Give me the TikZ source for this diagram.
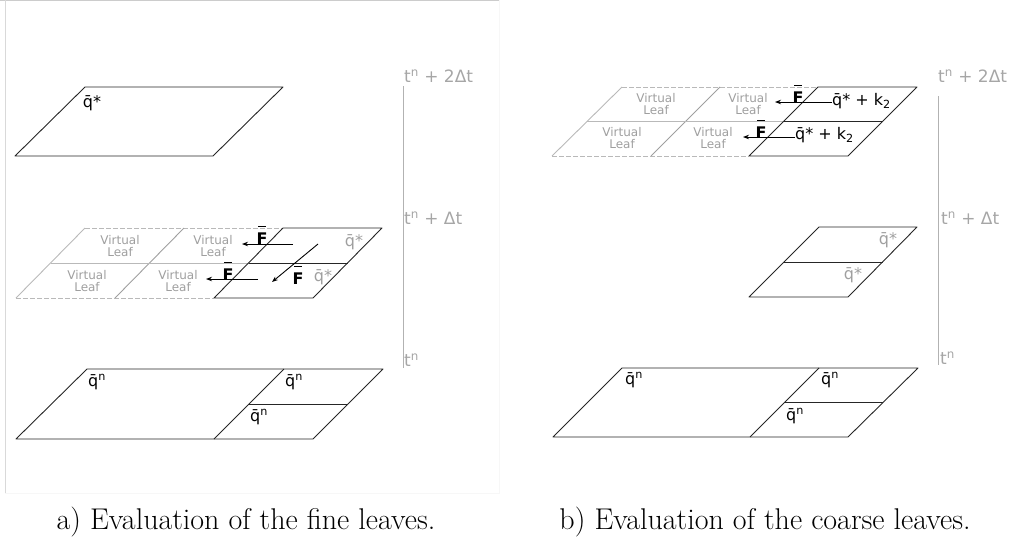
\documentclass[tikz,border=0pt]{standalone}
\usepackage{fontspec}
\newfontfamily\labelfont{DejaVu Sans}
\usetikzlibrary{arrows.meta}
\newcommand{\qbar}{q^^^^0304}
\newcommand{\Fbar}{{\bfseries\setbox0\hbox{F}\vbox{\hbox to\wd0{\hss\vrule height1.2pt width.7\wd0\hss}\kern1.4pt\box0}}}
\begin{document}
\begin{tikzpicture}[x=1pt, y=-1pt, every node/.style={inner sep=0pt}]
  \tikzstyle{cell}=[draw=black!85, line width=0.9pt, line join=round]
  \tikzstyle{ghost}=[draw=gray!55, line width=0.9pt]
  \tikzstyle{ghostdash}=[ghost, dash pattern=on 5pt off 2pt]
  \tikzstyle{vleaf}=[font=\labelfont\fontsize{12}{11.5}\selectfont, text=gray!75, align=center]
  \tikzstyle{qlab}=[font=\labelfont\fontsize{16}{16}\selectfont]
  \tikzstyle{flux}=[draw=black, line width=0.9pt, -{Stealth[length=6pt,width=4.5pt]}]
  \tikzstyle{taxis}=[draw=gray!60, line width=1pt]
  \tikzstyle{tlab}=[font=\labelfont\fontsize{17}{17}\selectfont, text=gray!70, anchor=west]
  \tikzstyle{caption}=[font=\fontsize{30}{36}\selectfont]
  \useasboundingbox (0,0) rectangle (1024,546);
  % frame of panel a
  \draw[gray!40, line width=1pt] (0,0.5) -- (499,0.5);
  \draw[gray!30, line width=1pt] (5,0) -- (5,493);
  \draw[gray!6] (499,0) -- (499,493) -- (5,493);

  % ---------------- a) fine leaves ----------------
  % t^n + 2 dt
  \draw[cell] (85,87) -- (283,87) -- (213,156) -- (15,156) -- cycle;
  \node[qlab] (qa2) at (92,103) {\qbar*};
  % t^n + dt
  \draw[ghostdash] (85,228) -- (283,228);
  \draw[ghostdash] (16,298) -- (214,298);
  \draw[ghost] (85,228) -- (16,298);
  \draw[ghost, draw=gray!75] (184,228) -- (115,298);
  \draw[ghost] (50.5,263) -- (248.5,263);
  \draw[cell] (283,228) -- (382,228) -- (313,298) -- (214,298) -- cycle;
  \draw[cell] (248.5,263) -- (347.5,263);
  \node[vleaf] (va1) at (120,246) {Virtual\\Leaf};
  \node[vleaf] (va2) at (213,246) {Virtual\\Leaf};
  \node[vleaf] (va3) at (87,281) {Virtual\\Leaf};
  \node[vleaf] (va4) at (178,281) {Virtual\\Leaf};
  \node[qlab, text=gray!75] (qa1u) at (354,242) {\qbar*};
  \node[qlab, text=gray!75] (qa1l) at (323,277) {\qbar*};
  \coordinate (fa1s) at (293,244);
  \coordinate (fa1e) at (242,244);
  \coordinate (fa2s) at (258,279);
  \coordinate (fa2e) at (206,279);
  \coordinate (fa3s) at (318,244);
  \coordinate (fa3e) at (272,282);
  \draw[flux] (fa1s) -- (fa1e);
  \draw[flux] (fa2s) -- (fa2e);
  \draw[flux] (fa3s) -- (fa3e);
  \node[qlab] (Fa1) at (262,235) {\Fbar};
  \node[qlab] (Fa2) at (228,271) {\Fbar};
  \node[qlab] (Fa3) at (298,275) {\Fbar};
  % t^n
  \draw[cell] (87,369) -- (383,369) -- (313,439) -- (16,439) -- cycle;
  \draw[cell] (284,369) -- (214,439);
  \draw[cell] (249,404) -- (348,404);
  \node[qlab] (qa0a) at (97,382) {\qbar\textsuperscript{n}};
  \node[qlab] (qa0b) at (294,382) {\qbar\textsuperscript{n}};
  \node[qlab] (qa0c) at (259,417) {\qbar\textsuperscript{n}};
  % time axis
  \draw[taxis] (403,86) -- (403,368);
  \node[tlab] (ta2) at (404,76) {t\textsuperscript{n} + 2Δt};
  \node[tlab] (ta1) at (404,218) {t\textsuperscript{n} + Δt};
  \node[tlab] (ta0) at (404,360) {t\textsuperscript{n}};
  \node[caption] (capa) at (246,522) {a) Evaluation of the fine leaves.};

  % ---------------- b) coarse leaves ----------------
  % t^n + 2 dt
  \draw[ghostdash] (622,87) -- (818,87);
  \draw[ghostdash] (552,156) -- (749,156);
  \draw[ghost] (622,87) -- (552,156);
  \draw[ghost, draw=gray!75] (720,87) -- (651,156);
  \draw[ghost] (587,121) -- (783.5,121);
  \draw[cell] (818,87) -- (917,87) -- (848,156) -- (749,156) -- cycle;
  \draw[cell] (783.5,121) -- (882.5,121);
  \node[vleaf] (vb1) at (656,104) {Virtual\\Leaf};
  \node[vleaf] (vb2) at (748,104) {Virtual\\Leaf};
  \node[vleaf] (vb3) at (622,138) {Virtual\\Leaf};
  \node[vleaf] (vb4) at (713,138) {Virtual\\Leaf};
  \node[qlab, anchor=west] (qb2u) at (832,101) {\qbar* + k\textsubscript{2}};
  \node[qlab, anchor=west] (qb2l) at (795,135) {\qbar* + k\textsubscript{2}};
  \coordinate (fb1e) at (775,102);
  \coordinate (fb2e) at (743,137);
  \draw[flux] (qb2u.west |- fb1e) -- (fb1e);
  \draw[flux] (qb2l.west |- fb2e) -- (fb2e);
  \node[qlab] (Fb1) at (798,94) {\Fbar};
  \node[qlab] (Fb2) at (761,129) {\Fbar};
  % t^n + dt
  \draw[cell] (819,227) -- (917,227) -- (848,297) -- (749,297) -- cycle;
  \draw[cell] (784,262) -- (883,262);
  \node[qlab, text=gray!75] (qb1u) at (888,240) {\qbar*};
  \node[qlab, text=gray!75] (qb1l) at (853,275) {\qbar*};
  % t^n
  \draw[cell] (622,368) -- (918,368) -- (848,437) -- (553,437) -- cycle;
  \draw[cell] (819,368) -- (750,437);
  \draw[cell] (785,402) -- (883,402);
  \node[qlab] (qb0a) at (634,380) {\qbar\textsuperscript{n}};
  \node[qlab] (qb0b) at (830,380) {\qbar\textsuperscript{n}};
  \node[qlab] (qb0c) at (795,416) {\qbar\textsuperscript{n}};
  % time axis
  \draw[taxis] (938,96) -- (938,365);
  \node[tlab] (tb2) at (938,76) {t\textsuperscript{n} + 2Δt};
  \node[tlab] (tb1) at (941,218) {t\textsuperscript{n} + Δt};
  \node[tlab] (tb0) at (940,358) {t\textsuperscript{n}};
  \node[caption] (capb) at (765,522) {b) Evaluation of the coarse leaves.};
\end{tikzpicture}
\end{document}
